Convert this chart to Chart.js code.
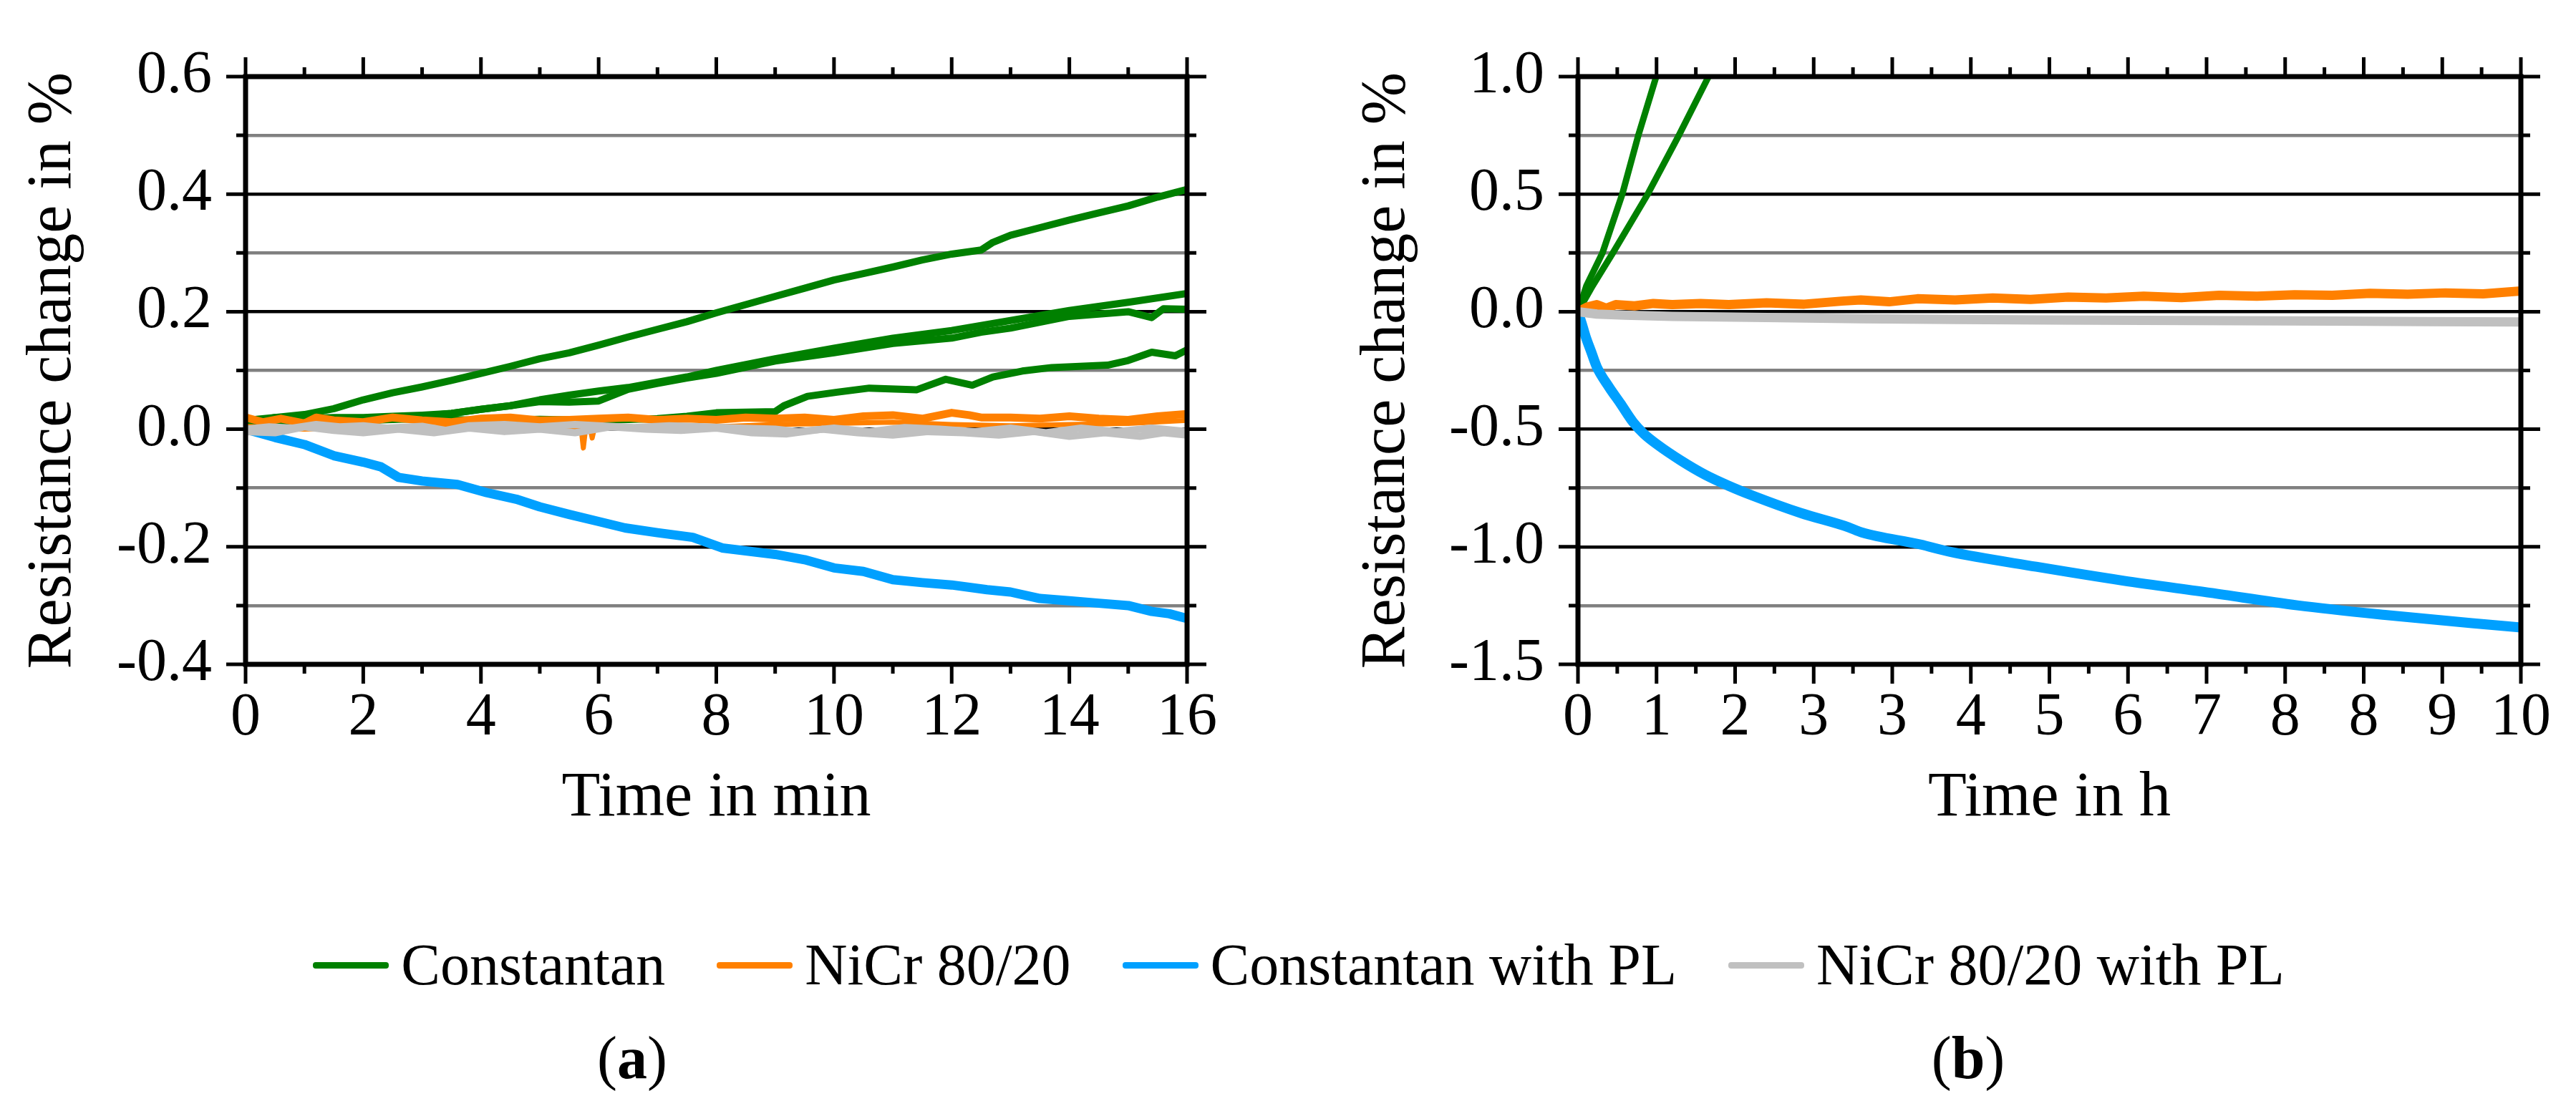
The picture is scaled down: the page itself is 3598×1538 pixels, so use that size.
<!DOCTYPE html>
<html><head><meta charset="utf-8">
<script src="https://cdn.jsdelivr.net/npm/chart.js@4.4.1/dist/chart.umd.min.js"></script>
<style>
html,body{margin:0;padding:0;background:#fff;}
body{width:3598px;height:1538px;position:relative;overflow:hidden;color:#000;}
#ca{position:absolute;left:0;top:0;}
#cb{position:absolute;left:1800px;top:0;}
#legend{position:absolute;left:0;width:3598px;top:1300px;height:96px;display:flex;justify-content:center;align-items:center;gap:72px;font-size:82px;padding-left:30px;box-sizing:border-box;}
.item{display:flex;align-items:center;white-space:nowrap;line-height:96px;}
.sw{width:106px;height:9px;border-radius:4px;margin-right:17px;}
.cap{position:absolute;top:1430px;font-size:84px;line-height:96px;transform:translateX(-50%);white-space:nowrap;}
</style></head>
<body>
<canvas id="ca" width="1800" height="1200"></canvas>
<canvas id="cb" width="1798" height="1200"></canvas>
<div id="legend"></div>
<div class="cap" style="left:883px">(<b>a</b>)</div>
<div class="cap" style="left:2749px">(<b>b</b>)</div>
<script>
// ---------- shared ----------
const seriesNames = ['Constantan', 'NiCr 80/20', 'Constantan with PL', 'NiCr 80/20 with PL'];
const seriesColors = ['#008000', '#ff8000', '#00a0ff', '#c0c0c0'];

// ---------- panel (a): time in min ----------
const aXTicks = [0, 2, 4, 6, 8, 10, 12, 14, 16];
const aXTickLabels = ['0', '2', '4', '6', '8', '10', '12', '14', '16'];
const aXMinor = [1, 3, 5, 7, 9, 11, 13, 15];
const aYTicks = [0.6, 0.4, 0.2, 0.0, -0.2, -0.4];
const aYTickLabels = ['0.6', '0.4', '0.2', '0.0', '-0.2', '-0.4'];
const aYMinor = [0.5, 0.3, 0.1, -0.1, -0.3];

const aConst1 = [[0,0.01],[0.5,0.02],[1,0.025],[1.5,0.035],[2,0.05],[2.5,0.062],[3,0.072],[3.5,0.083],[4,0.095],[4.5,0.107],[5,0.12],[5.5,0.13],[6,0.143],[6.5,0.157],[7,0.17],[7.5,0.183],[8,0.198],[8.5,0.212],[9,0.226],[9.5,0.24],[10,0.254],[10.5,0.265],[11,0.276],[11.5,0.288],[12,0.298],[12.5,0.305],[12.7,0.318],[13,0.33],[13.5,0.343],[14,0.356],[14.5,0.368],[15,0.38],[15.5,0.395],[16,0.408]];
const aConst2 = [[0,0.015],[0.5,0.02],[1,0.018],[1.5,0.02],[2,0.02],[2.5,0.022],[3,0.024],[3.5,0.027],[4,0.034],[4.5,0.04],[5,0.05],[5.5,0.058],[6,0.065],[6.5,0.071],[7,0.08],[7.5,0.089],[8,0.1],[9,0.12],[10,0.138],[11,0.155],[12,0.168],[13,0.185],[14,0.202],[15,0.216],[16,0.231]];
const aConst3 = [[0,0.01],[1,0.015],[2,0.018],[3,0.022],[3.5,0.027],[4,0.034],[4.5,0.04],[5,0.047],[5.5,0.046],[6,0.048],[6.5,0.068],[7,0.078],[7.5,0.087],[8,0.095],[9,0.116],[10,0.13],[11,0.146],[12,0.155],[12.5,0.165],[13,0.172],[14,0.192],[14.5,0.196],[15,0.2],[15.4,0.19],[15.6,0.205],[16,0.204]];
const aConst4 = [[0,0.012],[1,0.012],[2,0.015],[3,0.018],[4,0.015],[5,0.017],[6,0.015],[7,0.018],[7.5,0.022],[8,0.028],[9,0.03],[9.15,0.04],[9.55,0.056],[10.05,0.063],[10.6,0.07],[11.4,0.067],[11.9,0.085],[12.35,0.075],[12.7,0.089],[13.2,0.099],[13.7,0.105],[14.65,0.109],[15,0.117],[15.4,0.131],[15.8,0.125],[16,0.135]];
const aNiCr1 = [[0,0.02],[0.3,0.012],[0.6,0.018],[1,0.01],[1.2,0.02],[1.5,0.015],[2,0.012],[2.5,0.02],[3,0.015],[3.5,0.012],[4,0.018],[4.5,0.02],[5,0.015],[5.5,0.016],[6,0.018],[6.5,0.02],[7,0.016],[7.5,0.018],[8,0.016],[8.5,0.02],[9,0.018],[9.5,0.02],[10,0.016],[10.5,0.022],[11,0.024],[11.5,0.018],[12,0.028],[12.3,0.024],[12.5,0.02],[13,0.02],[13.5,0.018],[14,0.022],[14.5,0.018],[15,0.016],[15.5,0.022],[16,0.026]];
const aNiCr2 = [[0,0.005],[1,0.0],[2,0.004],[3,0.003],[4,0.002],[5,0.003],[5.7,0.004],[5.74,-0.032],[5.78,0.002],[5.86,0.0],[5.89,-0.015],[5.93,0.003],[6.5,0.004],[7,0.003],[8,0.004],[9,0.008],[10,0.01],[11,0.012],[12,0.008],[13,0.006],[14,0.008],[15,0.01],[16,0.015]];
const aConstPL = [[0,0],[0.5,-0.014],[1,-0.026],[1.5,-0.045],[2,-0.056],[2.3,-0.064],[2.6,-0.082],[3,-0.088],[3.6,-0.094],[4.1,-0.108],[4.6,-0.119],[5,-0.132],[5.5,-0.145],[6,-0.157],[6.45,-0.168],[7,-0.176],[7.6,-0.184],[8.1,-0.202],[8.5,-0.207],[9,-0.213],[9.5,-0.222],[10,-0.236],[10.5,-0.242],[11,-0.256],[11.5,-0.261],[12,-0.265],[12.6,-0.273],[13,-0.277],[13.5,-0.288],[14,-0.292],[14.5,-0.296],[15,-0.3],[15.4,-0.31],[15.7,-0.314],[16,-0.322]];
const aNiCrPL1 = [[0,0.0],[0.4,0.004],[0.8,0.002],[1.2,0.008],[1.6,0.004],[2,0.006],[2.4,0.002],[3,0.005],[3.4,-0.002],[3.8,0.006],[4.4,0.008],[5,0.004],[5.6,0.008],[6,0.006],[6.6,0.003],[7.2,0.006],[7.8,0.004],[8.4,0.002],[9,0.0],[9.4,-0.004],[10,0.002],[10.6,-0.004],[11.2,0.003],[11.8,0.0],[12.4,-0.004],[13,0.002],[13.6,-0.006],[14.2,0.002],[14.8,-0.004],[15.4,0.002],[16,-0.004]];
const aNiCrPL2 = [[0,-0.004],[0.5,-0.006],[1,0.004],[1.5,-0.002],[2,-0.006],[2.6,0.0],[3.2,-0.006],[3.8,0.002],[4.4,-0.004],[5,0.0],[5.6,-0.006],[6.2,0.004],[6.8,0.0],[7.4,-0.002],[8,0.002],[8.6,-0.006],[9.2,-0.008],[9.8,0.0],[10.4,-0.006],[11,-0.01],[11.6,-0.004],[12.2,-0.006],[12.8,-0.01],[13.4,-0.004],[14,-0.012],[14.6,-0.006],[15.2,-0.012],[15.6,-0.006],[16,-0.01]];

// ---------- panel (b): time in h ----------
const bXTickLabels = ['0', '1', '2', '3', '3', '4', '5', '6', '7', '8', '8', '9', '10'];
const bYTicks = [1.0, 0.5, 0.0, -0.5, -1.0, -1.5];
const bYTickLabels = ['1.0', '0.5', '0.0', '-0.5', '-1.0', '-1.5'];
const bYMinor = [0.75, 0.25, -0.25, -0.75, -1.25];

const bConst1 = [[0,0],[0.09,0.11],[0.26,0.25],[0.47,0.5],[0.64,0.75],[0.83,1.0]];
const bConst2 = [[0,0],[0.155,0.11],[0.37,0.25],[0.74,0.5],[1.07,0.75],[1.385,1.0]];
const bNiCr = [[0,0],[0.1,0.02],[0.2,0.03],[0.3,0.015],[0.4,0.03],[0.6,0.025],[0.8,0.035],[1,0.03],[1.3,0.035],[1.6,0.03],[2,0.038],[2.4,0.032],[2.8,0.045],[3,0.05],[3.3,0.042],[3.6,0.055],[4,0.05],[4.4,0.058],[4.8,0.052],[5.2,0.062],[5.6,0.058],[6,0.066],[6.4,0.06],[6.8,0.07],[7.2,0.066],[7.6,0.072],[8,0.07],[8.4,0.078],[8.8,0.074],[9.2,0.08],[9.6,0.076],[10,0.088]];
const bConstPL = [[0,0],[0.04,-0.05],[0.08,-0.104],[0.14,-0.17],[0.2,-0.235],[0.33,-0.321],[0.45,-0.39],[0.585,-0.47],[0.7,-0.52],[0.84,-0.565],[1.09,-0.633],[1.35,-0.694],[1.6,-0.741],[1.85,-0.782],[2.36,-0.856],[2.87,-0.917],[3.01,-0.939],[3.63,-0.99],[3.94,-1.021],[4.86,-1.085],[5.78,-1.144],[6.71,-1.196],[7.63,-1.249],[8.56,-1.29],[9.48,-1.325],[10,-1.343]];
const bNiCrPL = [[0,0],[0.2,-0.01],[0.5,-0.015],[1,-0.02],[2,-0.025],[3,-0.03],[4,-0.033],[5,-0.035],[6,-0.037],[7,-0.038],[8,-0.04],[9,-0.042],[10,-0.044]];

// derived tick positions for panel b (13 equally spaced ticks over 0..10 h)
const bXTicks = bXTickLabels.map((_, i) => i * 10 / 12);
const bXMinor = bXTickLabels.slice(1).map((_, i) => (i + 0.5) * 10 / 12);

// ---------- font pick (serif, Palatino-like) ----------
function pickFont(cands) {
  const c = document.createElement('canvas').getContext('2d');
  const s = 'Resistance change in % 0123456789';
  const w = f => { c.font = '80px ' + f; return c.measureText(s).width; };
  const mono = w('monospace'), sans = w('sans-serif');
  for (const f of cands) {
    const a = w('"' + f + '", monospace'), b = w('"' + f + '", sans-serif');
    if (Math.abs(a - mono) > 0.5 && Math.abs(b - sans) > 0.5) return f;
  }
  return 'serif';
}
const FONT = pickFont(['Liberation Serif', 'Tinos', 'Times New Roman', 'DejaVu Serif']);
document.body.style.fontFamily = '"' + FONT + '", serif';

const near = (arr, v) => arr.findIndex(a => Math.abs(a - v) < 1e-6);

function makeFrame(t) {
  return {
    id: 'frame',
    afterDatasetsDraw(chart) {
      const {ctx, chartArea: a} = chart;
      const xs = chart.scales.x, ys = chart.scales.y;
      ctx.save();
      ctx.strokeStyle = '#000';
      ctx.lineCap = 'butt';
      ctx.lineWidth = 5;
      ctx.beginPath();
      const drawX = (vals, len) => vals.forEach(v => {
        const p = xs.getPixelForValue(v);
        ctx.moveTo(p, a.bottom); ctx.lineTo(p, a.bottom + len);
        ctx.moveTo(p, a.top); ctx.lineTo(p, a.top - len);
      });
      const drawY = (vals, len) => vals.forEach(v => {
        const p = ys.getPixelForValue(v);
        ctx.moveTo(a.left - len, p); ctx.lineTo(a.left, p);
        ctx.moveTo(a.right, p); ctx.lineTo(a.right + len, p);
      });
      drawX(t.xMajor, 27); drawX(t.xMinor, 13);
      drawY(t.yMajor, 27); drawY(t.yMinor, 13);
      ctx.stroke();
      ctx.lineWidth = 7;
      ctx.strokeRect(a.left, a.top, a.right - a.left, a.bottom - a.top);
      ctx.restore();
    }
  };
}

function ds(data, colorIdx, width, order, mono) {
  return {
    label: seriesNames[colorIdx],
    data: data,
    borderColor: seriesColors[colorIdx],
    backgroundColor: seriesColors[colorIdx],
    borderWidth: width,
    borderJoinStyle: 'round',
    borderCapStyle: 'butt',
    pointRadius: 0,
    fill: false,
    order: order,
    tension: 0,
    cubicInterpolationMode: mono ? 'monotone' : 'default'
  };
}

function makeChart(canvas, c) {
  return new Chart(canvas, {
    type: 'line',
    data: {datasets: c.datasets},
    options: {
      responsive: false,
      animation: false,
      devicePixelRatio: 1,
      layout: {padding: {top: 107, right: c.padRight, left: 0, bottom: 0}},
      plugins: {legend: {display: false}, tooltip: {enabled: false}},
      scales: {
        x: {
          type: 'linear', min: c.xMin, max: c.xMax,
          afterBuildTicks: s => { s.ticks = c.xMajor.map(v => ({value: v})); },
          afterFit: s => { s.height = 272; },
          ticks: {
            autoSkip: false, maxRotation: 0, padding: 26, color: '#000',
            font: {family: FONT, size: 84},
            callback: v => { const i = near(c.xMajor, v); return i >= 0 ? c.xLabels[i] : ''; }
          },
          grid: {display: false, drawTicks: false},
          border: {display: false},
          title: {display: true, text: c.xTitle, color: '#000', font: {family: FONT, size: 88}, padding: 31}
        },
        y: {
          type: 'linear', min: c.yMin, max: c.yMax,
          afterBuildTicks: s => {
            s.ticks = c.yMajor.concat(c.yMinor).sort((p, q) => p - q).map(v => ({value: v}));
          },
          afterFit: s => { s.width = c.yWidth; },
          ticks: {
            autoSkip: false, padding: 47, color: '#000',
            font: {family: FONT, size: 84},
            callback: v => { const i = near(c.yMajor, v); return i >= 0 ? c.yLabels[i] : ''; }
          },
          grid: {
            drawTicks: false, lineWidth: 4.5,
            color: g => (g.tick && near(c.yMajor, g.tick.value) >= 0) ? '#000' : '#808080'
          },
          border: {display: false},
          title: {display: true, text: 'Resistance change in %', color: '#000', font: {family: FONT, size: 88}, padding: c.yTitlePad}
        }
      }
    },
    plugins: [makeFrame({xMajor: c.xMajor, xMinor: c.xMinor, yMajor: c.yMajor, yMinor: c.yMinor})]
  });
}

// ---------- panel a ----------
makeChart(document.getElementById('ca'), {
  datasets: [
    ds(aConst1, 0, 10, 4), ds(aConst2, 0, 10, 4), ds(aConst3, 0, 10, 4), ds(aConst4, 0, 10, 4),
    ds(aNiCr1, 1, 11, 3), ds(aNiCr2, 1, 7, 3),
    ds(aConstPL, 2, 13, 2),
    ds(aNiCrPL1, 3, 10, 1), ds(aNiCrPL2, 3, 10, 1)
  ],
  xMin: 0, xMax: 16, yMin: -0.4, yMax: 0.6,
  xMajor: aXTicks, xMinor: aXMinor, xLabels: aXTickLabels,
  yMajor: aYTicks, yMinor: aYMinor, yLabels: aYTickLabels,
  xTitle: 'Time in min', yWidth: 343, yTitlePad: 22, padRight: 142
});

// ---------- panel b ----------
makeChart(document.getElementById('cb'), {
  datasets: [
    ds(bConst1, 0, 9, 4), ds(bConst2, 0, 9, 4),
    ds(bNiCr, 1, 13, 3),
    ds(bConstPL, 2, 14, 2, true),
    ds(bNiCrPL, 3, 13, 1)
  ],
  xMin: 0, xMax: 10, yMin: -1.5, yMax: 1.0,
  xMajor: bXTicks, xMinor: bXMinor, xLabels: bXTickLabels,
  yMajor: bYTicks, yMinor: bYMinor, yLabels: bYTickLabels,
  xTitle: 'Time in h', yWidth: 404, yTitlePad: 85, padRight: 77
});

// ---------- legend ----------
const legend = document.getElementById('legend');
seriesNames.forEach((name, i) => {
  const it = document.createElement('div');
  it.className = 'item';
  const sw = document.createElement('span');
  sw.className = 'sw';
  sw.style.background = seriesColors[i];
  const tx = document.createElement('span');
  tx.textContent = name;
  it.appendChild(sw); it.appendChild(tx);
  legend.appendChild(it);
});
</script>
</body></html>
